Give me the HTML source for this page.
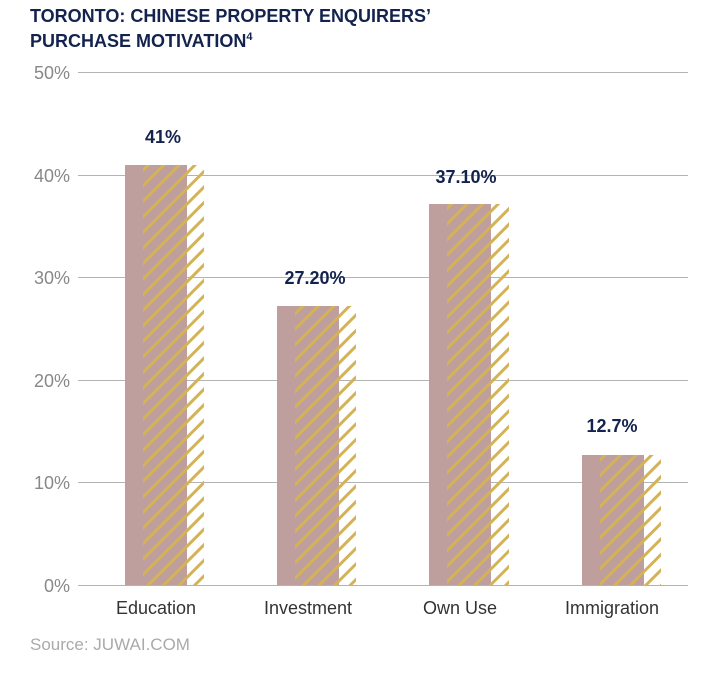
<!DOCTYPE html>
<html><head><style>
body{margin:0;background:#fff;width:722px;height:670px;overflow:hidden;font-family:"Liberation Sans",sans-serif;}
</style></head><body>
<svg width="722" height="670" xmlns="http://www.w3.org/2000/svg">
<defs>
<pattern id="h" patternUnits="userSpaceOnUse" width="11" height="11" patternTransform="rotate(45)">
<rect x="0" y="0" width="3" height="11" fill="#d4b357"/>
</pattern>
</defs>
<text x="30" y="22" font-size="18" font-weight="bold" fill="#13234d">TORONTO: CHINESE PROPERTY ENQUIRERS’</text>
<text x="30" y="47" font-size="18" font-weight="bold" fill="#13234d">PURCHASE MOTIVATION<tspan font-size="11" dy="-7">4</tspan></text>
<g stroke="#b3b3b3" stroke-width="1">
<line x1="78" x2="688" y1="72.5" y2="72.5"/>
<line x1="78" x2="688" y1="175.5" y2="175.5"/>
<line x1="78" x2="688" y1="277.5" y2="277.5"/>
<line x1="78" x2="688" y1="380.5" y2="380.5"/>
<line x1="78" x2="688" y1="482.5" y2="482.5"/>
<line x1="78" x2="688" y1="585.5" y2="585.5"/>
</g>
<g font-size="18" fill="#888" text-anchor="end">
<text x="70" y="79">50%</text><text x="70" y="182">40%</text><text x="70" y="284">30%</text>
<text x="70" y="387">20%</text><text x="70" y="489">10%</text><text x="70" y="592">0%</text>
</g>
<g fill="#bf9e9e">
<rect x="125" y="165" width="62" height="420"/>
<rect x="277" y="306" width="62" height="279"/>
<rect x="429" y="204" width="62" height="381"/>
<rect x="582" y="455" width="62" height="130"/>
</g>
<g fill="url(#h)">
<rect x="143" y="165" width="61" height="420"/>
<rect x="295" y="306" width="61" height="279"/>
<rect x="447" y="204" width="62" height="381"/>
<rect x="600" y="455" width="61" height="130"/>
</g>
<g font-size="18" font-weight="bold" fill="#13234d" text-anchor="middle">
<text x="163" y="143">41%</text><text x="315" y="284">27.20%</text>
<text x="466" y="183">37.10%</text><text x="612" y="432">12.7%</text>
</g>
<g font-size="18" fill="#333" text-anchor="middle">
<text x="156" y="614">Education</text><text x="308" y="614">Investment</text>
<text x="460" y="614">Own Use</text><text x="612" y="614">Immigration</text>
</g>
<text x="30" y="650" font-size="17" fill="#aaa">Source: JUWAI.COM</text>
</svg>
</body></html>
